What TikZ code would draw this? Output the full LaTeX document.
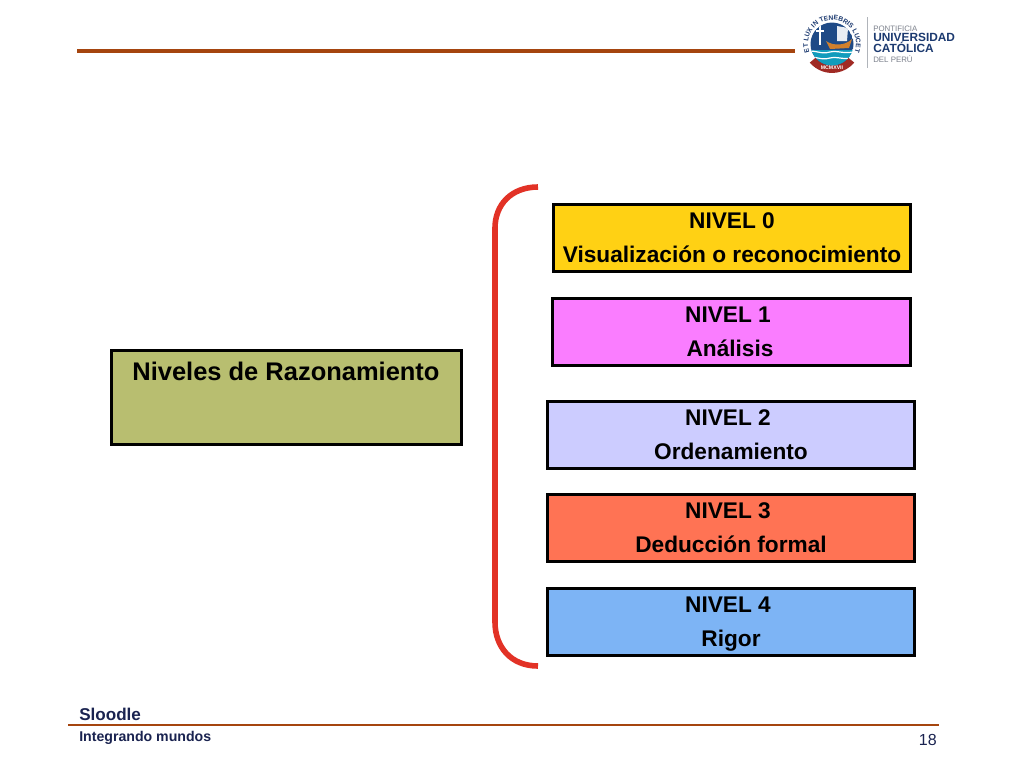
\documentclass[tikz,border=0pt]{standalone}
\usepackage{fontspec}
\setmainfont{Liberation Sans}
\usetikzlibrary{decorations.text}
\definecolor{rulebrown}{HTML}{A5450F}
\definecolor{navy}{HTML}{1A2350}
\definecolor{sealblue}{HTML}{1F4A86}
\definecolor{sealdark}{HTML}{1C3A70}
\definecolor{sealred}{HTML}{A02A24}
\definecolor{logogrey}{HTML}{7C818C}
\definecolor{bracketred}{HTML}{E23226}
\tikzset{
  x=0.75pt,y=-0.75pt,
  levelbox/.style={draw=black,line width=2.25pt,anchor=north west,inner sep=0pt,outer sep=0pt},
  boxtext/.style={font=\fontsize{17}{20}\selectfont\bfseries,text=black,inner sep=0pt,anchor=base},
  footrule/.style={draw=rulebrown,line width=2.2pt},
  logotext/.style={anchor=base west,inner sep=0pt,font=\fontsize{8.9}{10}\selectfont\bfseries,text=sealdark},
  logothin/.style={anchor=base west,inner sep=0pt,font=\fontsize{5.9}{6}\selectfont,text=logogrey}
}
\begin{document}
\begin{tikzpicture}
\useasboundingbox (0,0) rectangle (1024,768);
\fill[white] (0,0) rectangle (1024,768);
% header rule
\coordinate (hl) at (77,51); \coordinate (hr) at (795,51);
\draw[draw=rulebrown,line width=3pt] (hl) -- (hr);
% seal
\path[decorate,decoration={text along path,text align=center,
  text={|\fontsize{5}{5}\selectfont\bfseries\color{sealdark}|ET LUX IN TENEBRIS LUCET}}]
  (811.2,56) arc (150:390:24);
\fill[sealred] (809.8,62.6) arc (140:40:29) -- (847.7,57.2) arc (40:140:20.5) -- cycle;
\begin{scope}
\clip (832,44) circle (21.5);
\fill[sealblue] (832,44) circle (21.5);
\fill[white!90!sealblue] (837,26) -- (848,28) -- (847,41) -- (837,41) -- cycle;
\fill[brown!70!orange] (826,41) .. controls (833,46) and (845,46) .. (852,39) -- (849,48) -- (830,49) -- cycle;
\fill[sealblue!55!cyan] (808,50) rectangle (856,68);
\draw[white,line width=0.9pt] (808,52) .. controls (815,49) and (820,55) .. (830,52) .. controls (838,50) and (845,55) .. (856,51);
\draw[white,line width=0.9pt] (808,58) .. controls (815,55) and (820,61) .. (830,58) .. controls (838,56) and (845,61) .. (856,57);
\draw[white,line width=0.8pt] (820,26) -- (820,45) (816,31) -- (824,31);
\end{scope}
\node[inner sep=0pt,text=white,font=\fontsize{3.9}{5}\selectfont\bfseries] (sealyear) at (832,68) {MCMXVII};
% logo separator and text
\coordinate (st) at (867,17); \coordinate (sb) at (867,68);
\draw[logogrey!60,line width=0.6pt] (st) -- (sb);
\node[logothin] (pont) at (873,31) {PONTIFICIA};
\node[logotext] (univ) at (873,41.5) {UNIVERSIDAD};
\node[logotext] (cato) at (873,52.5) {CATÓLICA};
\node[logothin] (delp) at (873,62) {DEL PERÚ};
% bracket
\draw[draw=bracketred,line width=4.2pt]
  (538,187) .. controls (511,187) and (495,205) .. (495,228) -- (495,622) .. controls (495,647) and (511,666) .. (538,666);
% left box
\node[levelbox,fill={rgb,255:red,184;green,190;blue,112},minimum width=262.5pt,minimum height=70.5pt] (main) at (111.5,350.5) {};
\node[boxtext,font=\fontsize{19.1}{22}\selectfont\bfseries] (maint) at (286,380) {Niveles de Razonamiento};
% level boxes
\node[levelbox,fill={rgb,255:red,255;green,209;blue,20},minimum width=267.75pt,minimum height=50.25pt] (l0) at (553.5,204.5) {};
\node[boxtext] (l0a) at (732,228) {NIVEL 0};
\node[boxtext] (l0b) at (732,262) {Visualización o reconocimiento};
\node[levelbox,fill={rgb,255:red,250;green,125;blue,255},minimum width=268.5pt,minimum height=50.25pt] (l1) at (552.5,298.5) {};
\node[boxtext] (l1a) at (728,322) {NIVEL 1};
\node[boxtext] (l1b) at (730,356) {Análisis};
\node[levelbox,fill={rgb,255:red,204;green,204;blue,255},minimum width=275.25pt,minimum height=50.25pt] (l2) at (547.5,401.5) {};
\node[boxtext] (l2a) at (728,425) {NIVEL 2};
\node[boxtext] (l2b) at (731,459) {Ordenamiento};
\node[levelbox,fill={rgb,255:red,255;green,115;blue,84},minimum width=275.25pt,minimum height=50.25pt] (l3) at (547.5,494.5) {};
\node[boxtext] (l3a) at (728,518) {NIVEL 3};
\node[boxtext] (l3b) at (731,552) {Deducción formal};
\node[levelbox,fill={rgb,255:red,125;green,180;blue,245},minimum width=275.25pt,minimum height=50.25pt] (l4) at (547.5,588.5) {};
\node[boxtext] (l4a) at (728,612) {NIVEL 4};
\node[boxtext] (l4b) at (731,646) {Rigor};
% footer
\coordinate (fl) at (68,725); \coordinate (fr) at (939,725);
\draw[footrule] (fl) -- (fr);
\node[anchor=base west,inner sep=0pt,text=navy,font=\fontsize{12.8}{14}\selectfont\bfseries] (sl) at (79,720) {Sloodle};
\node[anchor=base west,inner sep=0pt,text=navy,font=\fontsize{10.6}{12}\selectfont\bfseries] (im) at (79,741) {Integrando mundos};
\node[anchor=base east,inner sep=0pt,text=navy,font=\fontsize{12}{14}\selectfont] (pg) at (937,745) {18};
\end{tikzpicture}
\end{document}
